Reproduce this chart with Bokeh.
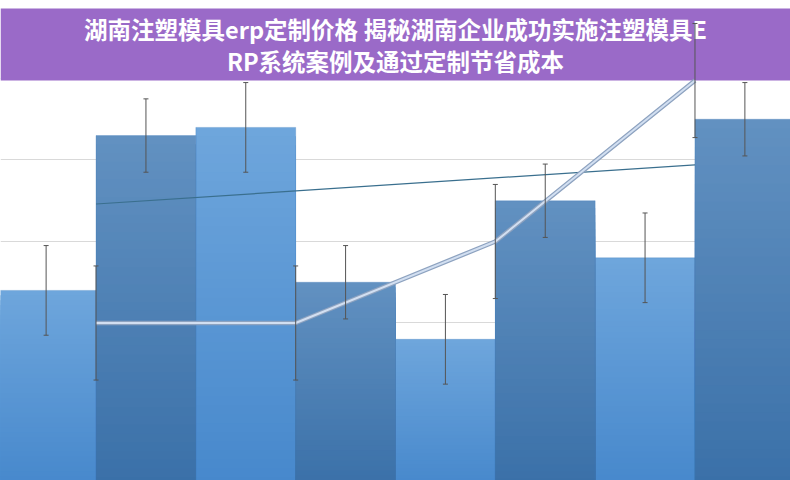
import numpy as np
from bokeh.plotting import figure
from bokeh.models import (Range1d, Grid, SingleIntervalTicker, ColumnDataSource,
                          Whisker, TeeHead, BoxAnnotation, Label)
from bokeh.embed import file_html
from bokeh.resources import INLINE

# ---- data ----
categories = ["A", "B", "C", "D"]
series_light = [48, 88, 36, 56]       # lighter bars
series_dark = [86, 50, 70, 90]        # darker bars
series_line = [40, 40, 60, 99.5]      # line series
err_light = [11, 11, 11, 11]
err_dark = [9, 9, 9, 9]
err_line = [14, 14, 14, 14]
title_text = "湖南注塑模具erp定制价格 揭秘湖南企业成功实施注塑模具E\nRP系统案例及通过定制节省成本"

W, H = 790, 480
p = figure(width=W, height=H, output_backend="svg", toolbar_location=None,
           x_range=Range1d(-0.457, 7.457), y_range=Range1d(1.35, 119.14),
           x_axis_location=None, y_axis_location=None,
           min_border=0, outline_line_color=None)
p.xgrid.visible = False
p.ygrid.visible = False
p.add_layout(Grid(dimension=1, ticker=SingleIntervalTicker(interval=20),
                  grid_line_color="#d9d9d9", grid_line_width=1))

# banner behind title
p.add_layout(BoxAnnotation(bottom=99.5, top=117.2, fill_color="#9a6ac8", fill_alpha=1.0,
                           line_color=None, level="underlay"))

n_cat = len(categories)
x_light = np.arange(n_cat) * 2.0
x_dark = np.arange(n_cat) * 2.0 + 1.0
x_line = np.arange(n_cat) * 2.0 + 0.5


def hex_interp(c0, c1, t):
    c = [int(round(a + (b - a) * t)) for a, b in zip(c0, c1)]
    return "#%02x%02x%02x" % tuple(c)


def gradient_bars(xs, vals, top_rgb, bot_rgb, n=40):
    L, R, B, T, C = [], [], [], [], []
    # nested slices drawn from tallest to shortest: no seams between bands
    for j in range(n - 1, -1, -1):
        for x, v in zip(xs, vals):
            L.append(x - 0.5)
            R.append(x + 0.5)
            B.append(0)
            T.append(v * (j + 1) / n)
            C.append(hex_interp(bot_rgb, top_rgb, (j + 0.5) / n))
    p.quad(left=L, right=R, bottom=B, top=T, fill_color=C, line_color=None)
    p.quad(left=[x - 0.5 for x in xs], right=[x + 0.5 for x in xs],
           bottom=[0] * len(xs), top=list(vals), fill_color=None,
           line_color="#3f7bb8", line_alpha=0.3, line_width=1)


gradient_bars(x_light, series_light, (111, 166, 220), (70, 136, 204))
gradient_bars(x_dark, series_dark, (98, 145, 193), (58, 112, 168))

# trend line of dark series (linear fit)
k = np.arange(n_cat)
slope, intercept = np.polyfit(k, np.array(series_dark, dtype=float), 1)
p.line([x_line[0], x_line[-1]], [intercept, intercept + slope * (n_cat - 1)],
       line_color="#3a6f8e", line_width=1.2)

# line series
p.line(x_line, series_line, line_color="#8ea3c0", line_width=4.5)
p.line(x_line, series_line, line_color="#d2dff1", line_width=2)

# error bars
def add_err(xs, vals, errs):
    src = ColumnDataSource(dict(x=list(xs),
                                lo=[v - e for v, e in zip(vals, errs)],
                                hi=[v + e for v, e in zip(vals, errs)]))
    w = Whisker(base="x", lower="lo", upper="hi", source=src,
                line_color="#555555", line_width=1, level="overlay",
                upper_head=TeeHead(size=5, line_color="#555555", line_width=1),
                lower_head=TeeHead(size=5, line_color="#555555", line_width=1))
    p.add_layout(w)


add_err(x_light, series_light, err_light)
add_err(x_dark, series_dark, err_dark)
add_err(x_line, series_line, err_line)

p.add_layout(Label(x=3.5, y=108.2, text=title_text, text_align="center",
                   text_baseline="middle", text_color="white",
                   text_font="Noto Sans CJK SC", text_font_style="bold",
                   text_font_size="23.5px", text_line_height=0.92))

open("out.html", "w").write(file_html(p, INLINE))
